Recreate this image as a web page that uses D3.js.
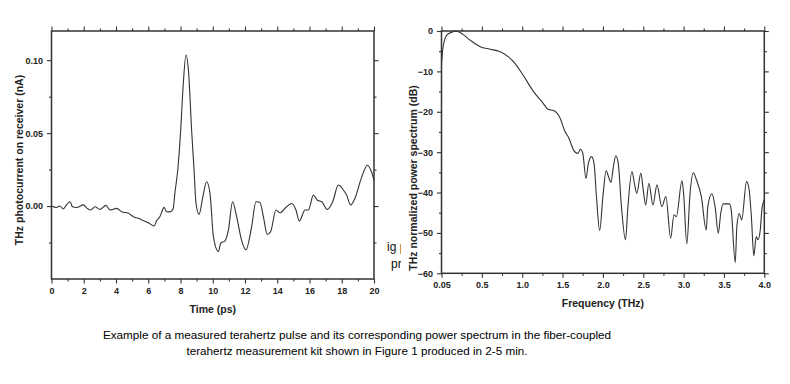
<!DOCTYPE html>
<html>
<head>
<meta charset="utf-8">
<script src="https://cdn.jsdelivr.net/npm/d3@7"></script>
<style>
  body { margin: 0; background: #fff; }
  svg { display: block; font-family: Arial, "Liberation Sans", sans-serif; }
  .tick text { font-weight: bold; font-size: 9px; fill: #222; }
  .domain, .tick line { stroke: #333; }
  .title { font-weight: bold; font-size: 10.5px; fill: #222; }
</style>
</head>
<body>
<div id="chart"></div>
<script>
// Time-domain pulse: time (ps) and photocurrent (nA)
var pulseTime = [0, 0.3, 0.52, 0.73, 0.94, 1.15, 1.3, 1.56, 1.97, 2.22, 2.43, 2.7, 3.0, 3.38, 3.63, 4.04,
    4.35, 4.77, 5.08, 5.39, 5.7, 6.0, 6.36, 6.52, 6.72, 6.99, 7.13, 7.34, 7.55, 7.65, 7.83, 8.0, 8.18, 8.34,
    8.5, 8.69, 8.84, 8.96, 9.15, 9.38, 9.62, 9.83, 10.04, 10.35, 10.49, 10.76, 10.97, 11.23, 11.48, 11.8,
    12.06, 12.41, 12.68, 12.93, 13.14, 13.38, 13.59, 13.92, 14.17, 14.58, 14.9, 15.16, 15.37, 15.72, 15.93,
    16.24, 16.49, 16.76, 17.1, 17.44, 17.79, 18.1, 18.3, 18.55, 18.82, 19.24, 19.59, 19.8, 20];
var pulseValue = [0, -0.001, 0, -0.002, 0.001, 0.003, -0.0005, -0.001, 0.0008, -0.0016, -0.0027, -0.0005,
    -0.0023, 0.0005, -0.0027, -0.0016, -0.0039, -0.005, -0.0073, -0.0084, -0.01, -0.0114, -0.0137, -0.01,
    -0.0073, -0.0009, -0.0039, -0.004, -0.0016, 0.0087, 0.0247, 0.05, 0.085, 0.1035, 0.092, 0.052, 0.0247,
    0.002, -0.0057, 0.006, 0.0167, 0.0087, -0.021, -0.0313, -0.0256, -0.0238, -0.0165, 0.003, -0.0073,
    -0.024, -0.030, -0.0142, 0.003, 0.0025, -0.0073, -0.0194, -0.0176, -0.0027, -0.0046, -0.0005, 0.0018,
    -0.0027, -0.0103, -0.0027, -0.0027, 0.0075, 0.004, 0.003, -0.0023, 0.003, 0.0144, 0.011, 0.0075,
    0.0007, 0.0053, 0.020, 0.028, 0.0247, 0.0178];

// Spectrum: frequency (THz) and normalized power (dB)
var specFreq = [0, 0.02, 0.065, 0.127, 0.18, 0.25, 0.35, 0.48, 0.6, 0.72, 0.83, 0.91, 1.01, 1.14, 1.26,
    1.32, 1.39, 1.47, 1.53, 1.57, 1.65, 1.69, 1.72, 1.75, 1.79, 1.82, 1.86, 1.89, 1.92, 1.96, 2.0, 2.04,
    2.07, 2.1, 2.13, 2.16, 2.19, 2.23, 2.28, 2.31, 2.36, 2.39, 2.42, 2.47, 2.5, 2.53, 2.57, 2.62, 2.67,
    2.73, 2.78, 2.84, 2.88, 2.91, 2.98, 3.0, 3.04, 3.08, 3.12, 3.16, 3.22, 3.28, 3.3, 3.35, 3.39, 3.43,
    3.46, 3.49, 3.57, 3.59, 3.64, 3.66, 3.69, 3.72, 3.78, 3.81, 3.84, 3.87, 3.9, 3.92, 3.95, 3.97, 4.0];
var specDb = [-8, -3.9, -1, -0.3, 0, -0.6, -2.2, -3.9, -4.5, -5.1, -6.4, -8, -10.9, -15, -17.9, -19.4,
    -19.7, -21.6, -24.9, -26.2, -29.9, -30.3, -29.3, -30.2, -36.5, -32.8, -31.1, -32.8, -41, -49.4, -41,
    -34.6, -36.1, -37.5, -33.6, -30.9, -32.8, -43.5, -51.7, -43.5, -34.8, -37.7, -40.2, -35.2, -39.4,
    -43.1, -37.7, -43.1, -38.1, -43.5, -41, -51.3, -45.5, -46, -37.1, -40.2, -52.7, -40.2, -35.1, -36.9,
    -41, -49.3, -43.5, -40.3, -43.5, -50.1, -45.2, -42.8, -42.8, -44.3, -57.3, -48.4, -45.2, -46.8,
    -37.3, -39, -46, -55.7, -50.9, -51.7, -49.3, -44.3, -41.8];

// Tick values
var timeTicks = [0, 2, 4, 6, 8, 10, 12, 14, 16, 18, 20];
var currentTicks = [0.00, 0.05, 0.10];
var freqTicks = [0, 0.5, 1.0, 1.5, 2.0, 2.5, 3.0, 3.5, 4.0];
var dbTicks = [0, -10, -20, -30, -40, -50, -60];

var captionLines = [
    "Example of a measured terahertz pulse and its corresponding power spectrum in the fiber-coupled",
    "terahertz measurement kit shown in Figure 1 produced in 2-5 min."
];

var width = 790, height = 384;

var svg = d3.select("#chart").append("svg")
    .attr("width", width)
    .attr("height", height);

svg.append("rect").attr("width", width).attr("height", height).attr("fill", "#fff");

// draw a framed panel with outward ticks on all four sides
function framedPanel(box, x, y, xMajor, xMinor, yMajor, yMinor, xFmt, yFmt) {
    var g = svg.append("g");

    function axisPair(axisFn, scale, major, minor, fmt, transform, labels) {
        g.append("g").attr("transform", transform)
            .call(axisFn(scale).tickValues(minor).tickSize(2.5).tickFormat(""));
        g.append("g").attr("transform", transform)
            .call(axisFn(scale).tickValues(major).tickSize(4.5).tickPadding(4)
                .tickFormat(labels ? fmt : ""));
    }

    axisPair(d3.axisBottom, x, xMajor, xMinor, xFmt, "translate(0," + box.bottom + ")", true);
    axisPair(d3.axisTop, x, xMajor, xMinor, xFmt, "translate(0," + box.top + ")", false);
    axisPair(d3.axisLeft, y, yMajor, yMinor, yFmt, "translate(" + box.left + ",0)", true);
    axisPair(d3.axisRight, y, yMajor, yMinor, yFmt, "translate(" + box.right + ",0)", false);

    g.selectAll(".domain").attr("d", null);
    g.append("rect")
        .attr("x", box.left).attr("y", box.top)
        .attr("width", box.right - box.left).attr("height", box.bottom - box.top)
        .attr("fill", "none").attr("stroke", "#333").attr("stroke-width", 1.5);
    g.selectAll(".tick line").attr("stroke-width", 1.1);
    return g;
}

// ---- left panel: time-domain pulse ----
var L = { left: 51.5, right: 374, top: 31, bottom: 279 };
var xT = d3.scaleLinear().domain([0, 20]).range([L.left, L.right]);
var yT = d3.scaleLinear().domain([-0.05, 0.12]).range([L.bottom, L.top]);

framedPanel(L, xT, yT, timeTicks, d3.range(1, 20, 2),
    currentTicks, [-0.025, 0.025, 0.075], d3.format("d"), d3.format(".2f"));

svg.append("path")
    .datum(d3.zip(pulseTime, pulseValue))
    .attr("fill", "none")
    .attr("stroke", "#333")
    .attr("stroke-width", 1.1)
    .attr("d", d3.line()
        .x(function(d) { return xT(d[0]); })
        .y(function(d) { return yT(d[1]); })
        .curve(d3.curveMonotoneX));

svg.append("text").attr("class", "title")
    .attr("x", (L.left + L.right) / 2).attr("y", 313)
    .attr("text-anchor", "middle").text("Time (ps)");
svg.append("text").attr("class", "title")
    .attr("transform", "translate(23,160) rotate(-90)")
    .attr("text-anchor", "middle").text("THz photocurrent on receiver (nA)");

// fragments of page text peeking out between the panels
svg.append("clipPath").attr("id", "frag")
    .append("rect").attr("x", 380).attr("y", 236).attr("width", 21).attr("height", 40);
var frag = svg.append("g").attr("clip-path", "url(#frag)")
    .style("font-size", "12px").attr("fill", "#111");
frag.append("text").attr("x", 387).attr("y", 251).text("ig pu");
frag.append("text").attr("x", 391).attr("y", 268).text("pro");

// ---- right panel: power spectrum ----
var R = { left: 441.5, right: 764.3, top: 31, bottom: 273.3 };
var xF = d3.scaleLinear().domain([0, 4]).range([R.left, R.right]);
var yF = d3.scaleLinear().domain([-60, 0]).range([R.bottom, R.top]);

framedPanel(R, xF, yF, freqTicks, d3.range(0.25, 4, 0.5),
    dbTicks, d3.range(-55, 0, 10),
    function(d) { return d === 0 ? "0.05" : d3.format(".1f")(d); }, d3.format("d"));

svg.append("path")
    .datum(d3.zip(specFreq, specDb))
    .attr("fill", "none")
    .attr("stroke", "#333")
    .attr("stroke-width", 1.1)
    .attr("d", d3.line()
        .x(function(d) { return xF(d[0]); })
        .y(function(d) { return yF(d[1]); })
        .curve(d3.curveMonotoneX));

svg.append("text").attr("class", "title")
    .attr("x", (R.left + R.right) / 2).attr("y", 307)
    .attr("text-anchor", "middle").text("Frequency (THz)");
svg.append("text").attr("class", "title")
    .attr("transform", "translate(417,178) rotate(-90)")
    .attr("text-anchor", "middle").text("THz normalized power spectrum (dB)");

// ---- caption ----
svg.selectAll(".caption")
    .data(captionLines)
    .enter().append("text")
    .attr("class", "caption")
    .attr("x", 357)
    .attr("y", function(d, i) { return 339 + i * 16; })
    .attr("text-anchor", "middle")
    .style("font-size", "11.7px")
    .attr("fill", "#000")
    .text(function(d) { return d; });
</script>
</body>
</html>
